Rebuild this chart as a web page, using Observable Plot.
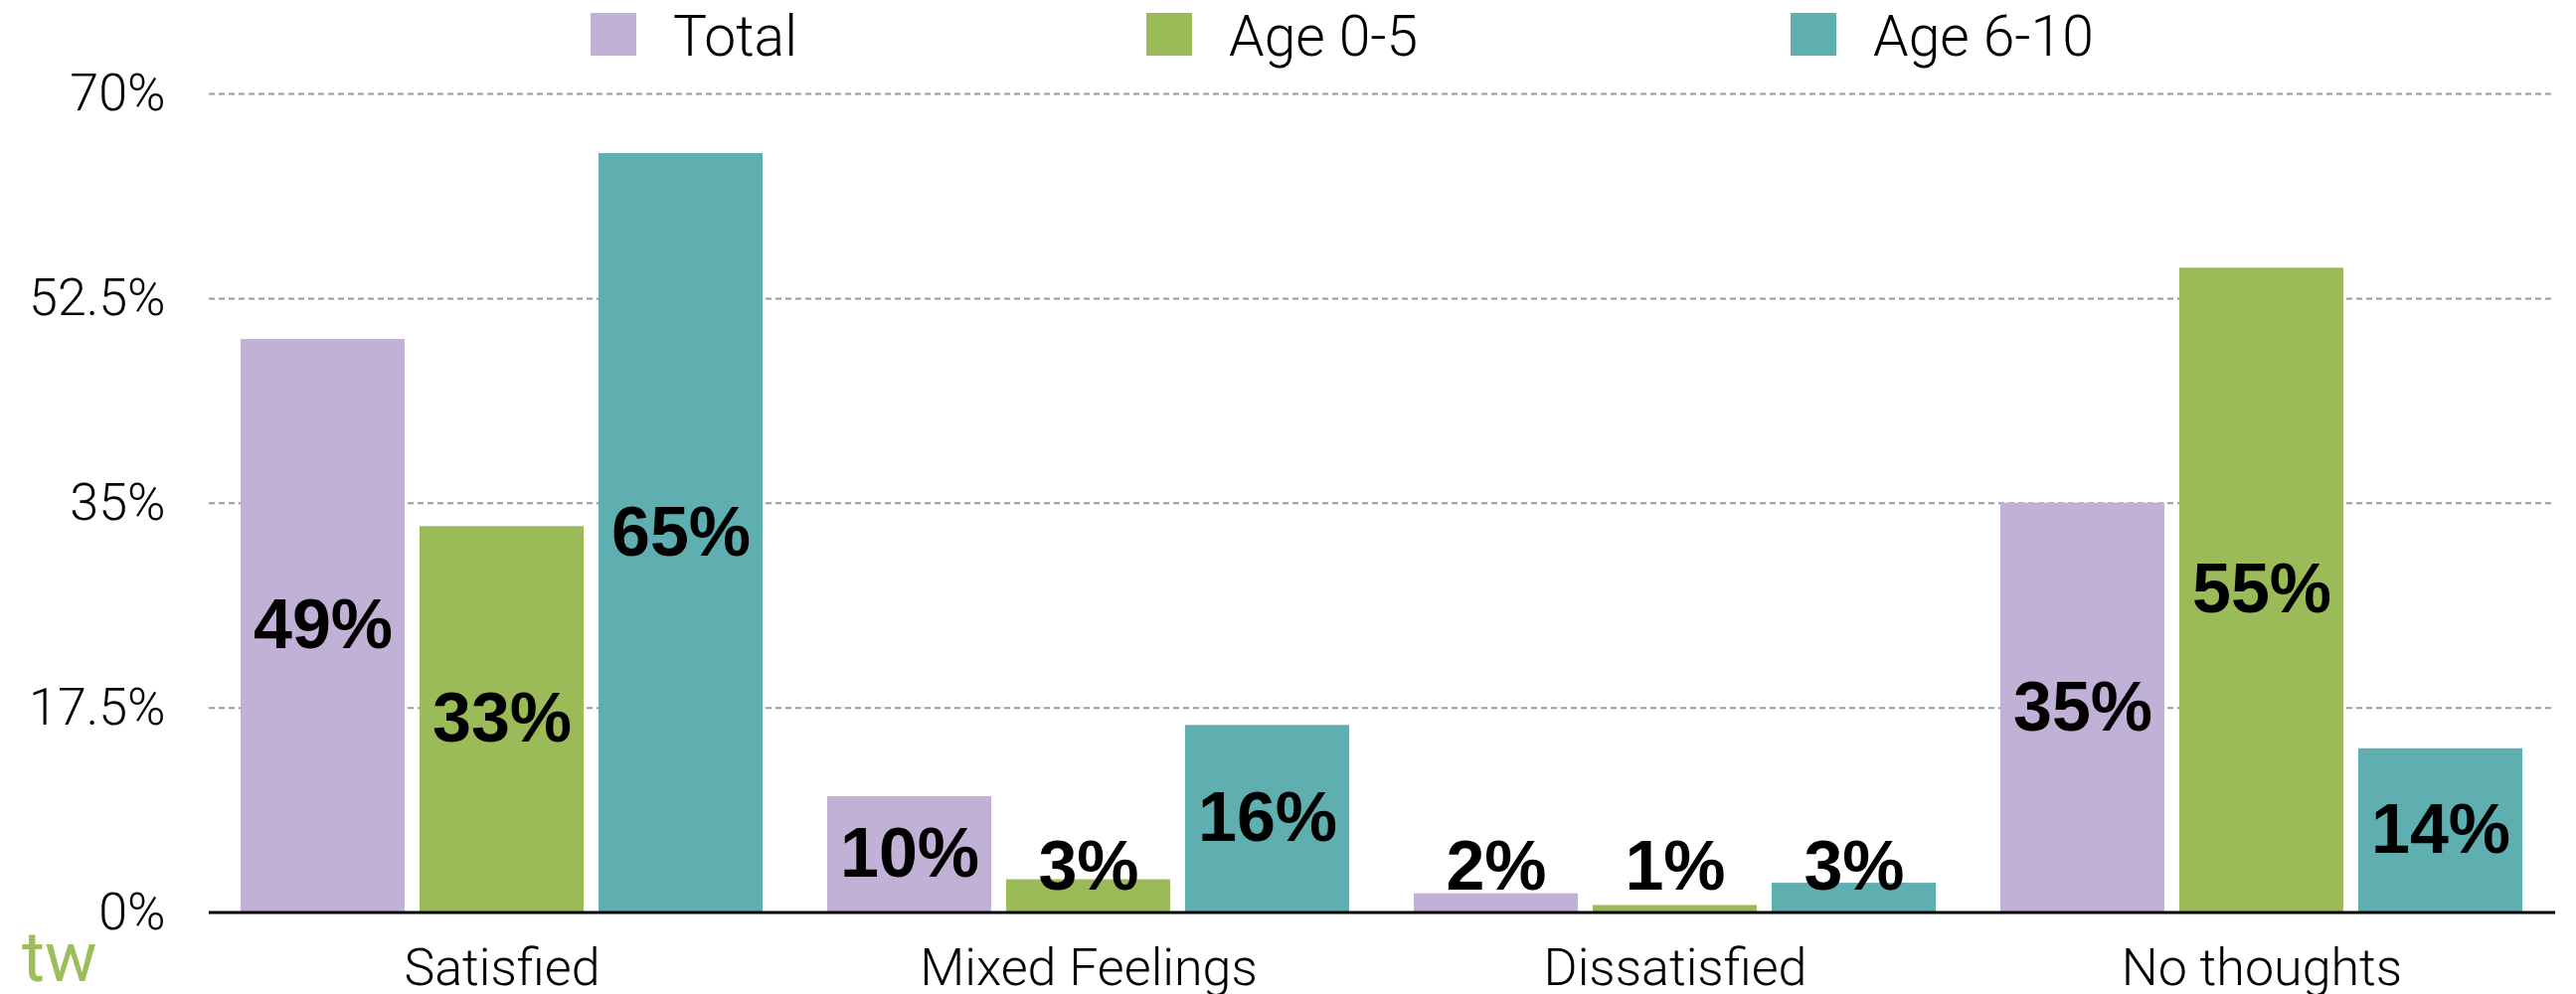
<!DOCTYPE html>
<html>
<head>
<meta charset="utf-8">
<script src="https://cdn.jsdelivr.net/npm/d3@7"></script>
<script src="https://cdn.jsdelivr.net/npm/@observablehq/plot@0.6"></script>
<style>
  html, body { margin: 0; padding: 0; background: #fff; overflow: hidden; }
  body { width: 2591px; height: 1000px; position: relative; font-family: Roboto, "Liberation Sans", sans-serif; }
  #legend { height: 70px; box-sizing: border-box; padding-top: 8px; padding-left: 594px; display: flex; font-size: 57px; font-weight: 300; color: #000; }
  .item { display: flex; align-items: baseline; line-height: 1; flex: none; }
  .item:nth-child(1) { width: 559px; }
  .item:nth-child(2) { width: 648px; }
  .sw { display: inline-block; width: 46px; height: 43px; margin-right: 37px; }
  #logo { position: absolute; left: 22px; top: 928px; font-size: 70px; line-height: 70px; color: #9bbd5a; font-family: Roboto, sans-serif; font-weight: 400; }
  #chart svg { display: block; }
</style>
</head>
<body>
<div id="legend"></div>
<div id="chart"></div>
<div id="logo">tw</div>
<script>
const categories = ["Satisfied", "Mixed Feelings", "Dissatisfied", "No thoughts"];
const seriesNames = ["Total", "Age 0-5", "Age 6-10"];
const total = [49, 9.9, 1.6, 35];
const age0to5 = [33, 2.8, 0.6, 55.1];
const age6to10 = [64.9, 16, 2.5, 14];
const yTicks = [0, 17.5, 35, 52.5, 70];
const colors = ["#c1b1d6", "#9bba58", "#60afb0"];

const seriesValues = [total, age0to5, age6to10];
const data = categories.flatMap((c, i) =>
  seriesNames.map((s, j) => ({category: c, series: s, j, value: seriesValues[j][i]}))
);

// Legend
const legend = document.getElementById("legend");
seriesNames.forEach((s, j) => {
  const item = document.createElement("div");
  item.className = "item";
  const sw = document.createElement("span");
  sw.className = "sw";
  sw.style.background = colors[j];
  const t = document.createElement("span");
  t.textContent = s;
  item.appendChild(sw);
  item.appendChild(t);
  legend.appendChild(item);
});

const step = 180; // offset between grouped bars within a category band

const chart = Plot.plot({
  width: 2591,
  height: 930,
  marginTop: 24,
  marginBottom: 82.5,
  marginLeft: 210,
  marginRight: 21,
  style: {fontFamily: "Roboto, 'Liberation Sans', sans-serif", fontSize: "52px", fontWeight: 300, color: "#000", background: "transparent", overflow: "visible"},
  x: {domain: categories, paddingInner: 0.11, paddingOuter: 0.055, label: null, tickSize: 0, tickPadding: 36},
  y: {domain: [0, 70], ticks: yTicks, tickFormat: d => d + "%", tickSize: 0, tickPadding: 44, label: null},
  marks: [
    Plot.ruleY(yTicks.filter(d => d > 0), {stroke: "#9a9a9a", strokeWidth: 2, strokeDasharray: "6,4"}),
    ...seriesNames.map((s, j) => Plot.barY(data.filter(d => d.j === j), {
      x: "category", y: "value", fill: colors[j],
      insetLeft: j * step, insetRight: (2 - j) * step
    })),
    ...seriesNames.map((s, j) => Plot.text(data.filter(d => d.j === j), {
      x: "category",
      y: d => Math.max(d.value / 2, 3.85),
      text: d => Math.round(d.value) + "%",
      dx: (j - 1) * step,
      fontSize: 70, fontWeight: "bold", fontFamily: "'Liberation Sans', Arial, sans-serif",
      fill: "#000"
    })),
    Plot.ruleY([0], {stroke: "#000", strokeWidth: 3})
  ]
});
document.getElementById("chart").appendChild(chart);
</script>
</body>
</html>
